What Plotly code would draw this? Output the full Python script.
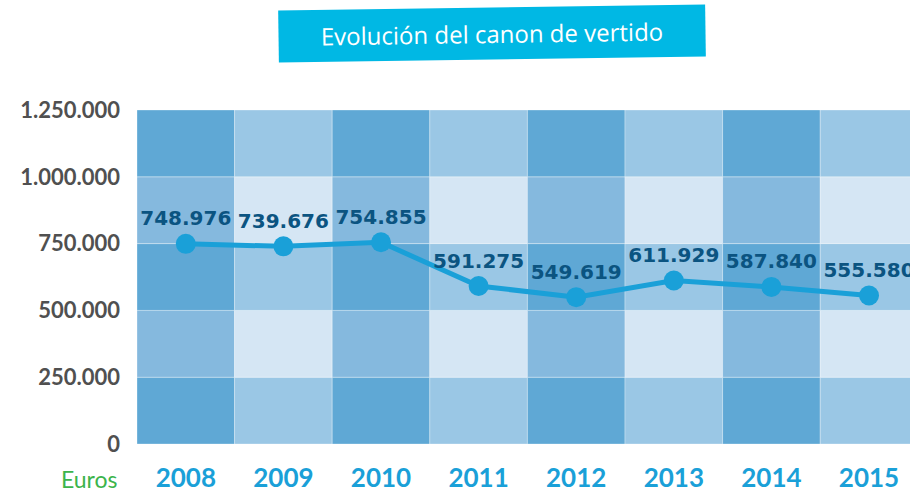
import plotly.graph_objects as go

years = [2008, 2009, 2010, 2011, 2012, 2013, 2014, 2015]
values = [748976, 739676, 754855, 591275, 549619, 611929, 587840, 555580]
labels = ["748.976", "739.676", "754.855", "591.275", "549.619", "611.929", "587.840", "555.580"]
y_ticks = [0, 250000, 500000, 750000, 1000000, 1250000]
y_ticktext = ["0", "250.000", "500.000", "750.000", "1.000.000", "1.250.000"]
title_text = "Evolución del canon de vertido"

# cell colours: [row parity][col parity]
cell_colors = [["#5fa8d5", "#9ac7e5"], ["#85b9de", "#d5e6f4"]]

fig = go.Figure()

shapes = []
for ci, yr in enumerate(years):
    for ri in range(len(y_ticks) - 1):
        shapes.append(dict(
            type="rect", xref="x", yref="y", layer="below",
            x0=yr - 0.5, x1=yr + 0.5 if yr < years[-1] else yr + 1,
            y0=y_ticks[ri], y1=y_ticks[ri + 1],
            fillcolor=cell_colors[ri % 2][ci % 2],
            line=dict(color="rgba(255,255,255,0.3)", width=1),
        ))

fig.add_trace(go.Scatter(
    x=years, y=values, mode="lines+markers+text",
    line=dict(color="#1aa0d8", width=5),
    marker=dict(color="#1aa0d8", size=20),
    text=labels, textposition="top center",
    textfont=dict(family="DejaVu Sans, sans-serif", size=20, color="#0b5481", weight="bold"),
    cliponaxis=False, hoverinfo="skip", showlegend=False,
))

fig.update_layout(
    width=910, height=493,
    margin=dict(l=137, r=0, t=110, b=47),
    paper_bgcolor="white", plot_bgcolor="white",
    separators=",.",
    shapes=shapes,
    xaxis=dict(
        range=[2007.5, 2015.42], tickmode="array", tickvals=years,
        ticktext=[str(y) for y in years],
        tickfont=dict(family="Lato, sans-serif", size=26, color="#1aa0d8", weight="bold"),
        showgrid=False, zeroline=False, showline=False, ticks="", ticklabelstandoff=16,
        fixedrange=True,
    ),
    yaxis=dict(
        range=[0, 1250000], tickmode="array", tickvals=y_ticks, ticktext=y_ticktext,
        tickfont=dict(family="Lato, sans-serif", size=22, color="#505050", weight="bold"),
        showgrid=False, zeroline=False, showline=False, ticks="", ticklabelstandoff=16,
        fixedrange=True,
    ),
    annotations=[
        dict(text="Euros", xref="paper", yref="paper", x=-0.022, y=-0.104,
             xanchor="right", yanchor="middle", showarrow=False,
             font=dict(family="Lato, sans-serif", size=23, color="#3cb44b")),
        dict(text=title_text, xref="paper", yref="paper", x=0.459, y=1.23,
             xanchor="center", yanchor="middle", showarrow=False, textangle=-0.8,
             font=dict(family="Open Sans, sans-serif", size=24, color="white"),
             bgcolor="#00b8e4", borderpad=9, width=408),
    ],
)

fig.write_html(
    "out.html",
    config={"displayModeBar": False, "staticPlot": True},
    post_script="document.body.style.margin='0';document.body.style.overflow='hidden';",
)
